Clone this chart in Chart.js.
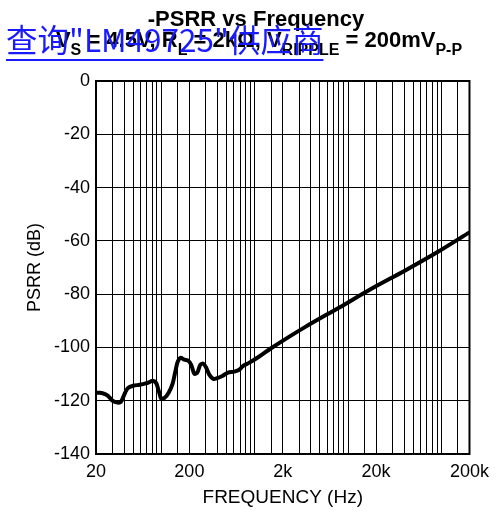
<!DOCTYPE html>
<html>
<head>
<meta charset="utf-8">
<script src="https://cdn.jsdelivr.net/npm/chart.js@4"></script>
<style>
    body { margin: 0; background: #fff; }
    #wrap { position: relative; width: 496px; height: 511px; font-family: "Liberation Sans", Arial, sans-serif; }
    #chart { position: absolute; left: 0; top: 0; }
    .title { position: absolute; left: 0; width: 512px; text-align: center; font-weight: bold; font-size: 22px; line-height: 22px; color: #000; white-space: nowrap; }
    .title sub { font-size: 16px; vertical-align: -8px; line-height: 0; }
    #link { position: absolute; left: 6px; top: 20px; font-family: "Noto Sans CJK SC", sans-serif; font-size: 31.5px; line-height: 36px; color: #1a1aff; text-decoration: underline; text-decoration-thickness: 2px; text-underline-offset: 7px; white-space: nowrap; }
</style>
</head>
<body>
<div id="wrap">
    <canvas id="chart" width="496" height="511"></canvas>
    <div class="title" style="top: 8px;">-PSRR vs Frequency</div>
    <div class="title" style="top: 29px; left: 3px;">V<sub>S</sub> = 4.5V, R<sub>L</sub> = 2kΩ, V<sub>RIPPLE</sub> = 200mV<sub>P-P</sub></div>
    <div id="link">查询"LM49725"供应商</div>
</div>
<script>
// Data
const freqHz = [20, 22, 25, 27, 30, 34, 37, 41, 44, 50, 59, 68, 76, 81, 88, 94, 100, 108, 120, 132,
    142, 150, 161, 177, 195, 209, 226, 243, 262, 282, 303, 328, 361, 397, 451, 520, 600, 684, 754, 870,
    1110, 1530, 3530, 8000, 18000, 41000, 93000, 200000];
const psrrDb = [-117, -117, -117.5, -118.2, -120, -120.7, -120.4, -117, -115.2, -114.4, -114, -113.5, -112.9, -112.5, -113.3, -116.3, -119.3, -119, -117, -113.7,
    -108.8, -105.4, -103.9, -104.6, -105, -106.5, -109.9, -109.5, -106.5, -106.1, -107.6, -110.3, -111.8, -111.5, -110.7, -109.5, -109.1, -108.4, -106.9, -105.8,
    -103.5, -100.1, -92.2, -85.1, -77.9, -71.1, -64, -56.8];

const xTickValues = [20, 200, 2000, 20000, 200000];
const xTickLabels = ['20', '200', '2k', '20k', '200k'];
const yMin = -140, yMax = 0, yStep = 20;

document.addEventListener('DOMContentLoaded', function() {
    Chart.defaults.font.family = '"Liberation Sans", Arial, sans-serif';
    Chart.defaults.color = '#000';

    // box around the plot area
    const frame = {
        id: 'frame',
        afterDraw(chart) {
            const a = chart.chartArea;
            const ctx = chart.ctx;
            ctx.save();
            ctx.strokeStyle = '#000';
            ctx.lineWidth = 2;
            ctx.strokeRect(a.left, a.top, a.right - a.left, a.bottom - a.top);
            ctx.restore();
        }
    };

    const ctx = document.getElementById('chart').getContext('2d');
    new Chart(ctx, {
        type: 'line',
        data: {
            datasets: [{
                data: freqHz.map((f, i) => ({ x: f, y: psrrDb[i] })),
                borderColor: '#000',
                borderWidth: 4,
                pointRadius: 0,
                tension: 0.3,
                fill: false
            }]
        },
        options: {
            responsive: false,
            animation: false,
            devicePixelRatio: 1,
            layout: { padding: { top: 81, right: 24, left: 0, bottom: 0 } },
            plugins: {
                legend: { display: false },
                tooltip: { enabled: false }
            },
            scales: {
                x: {
                    type: 'logarithmic',
                    min: 20,
                    max: 200000,
                    grid: { color: '#000', lineWidth: 1, drawTicks: false },
                    border: { color: '#000', width: 2 },
                    ticks: {
                        autoSkip: false,
                        maxRotation: 0,
                        padding: 7,
                        font: { size: 18 },
                        callback: function(value) {
                            const i = xTickValues.indexOf(Math.round(value));
                            return i >= 0 ? xTickLabels[i] : '';
                        }
                    },
                    title: { display: true, text: 'FREQUENCY (Hz)', font: { size: 19 }, padding: { top: 0, bottom: 2 } },
                    afterFit: function(scale) { scale.height = 57; }
                },
                y: {
                    min: yMin,
                    max: yMax,
                    grid: { color: '#000', lineWidth: 1, drawTicks: false },
                    border: { color: '#000', width: 2 },
                    ticks: { stepSize: yStep, padding: 6, font: { size: 18 } },
                    title: { display: true, text: 'PSRR (dB)', font: { size: 18 }, padding: { top: 24, bottom: 0 } },
                    afterFit: function(scale) { scale.width = 96; }
                }
            }
        },
        plugins: [frame]
    });
});
</script>
</body>
</html>
